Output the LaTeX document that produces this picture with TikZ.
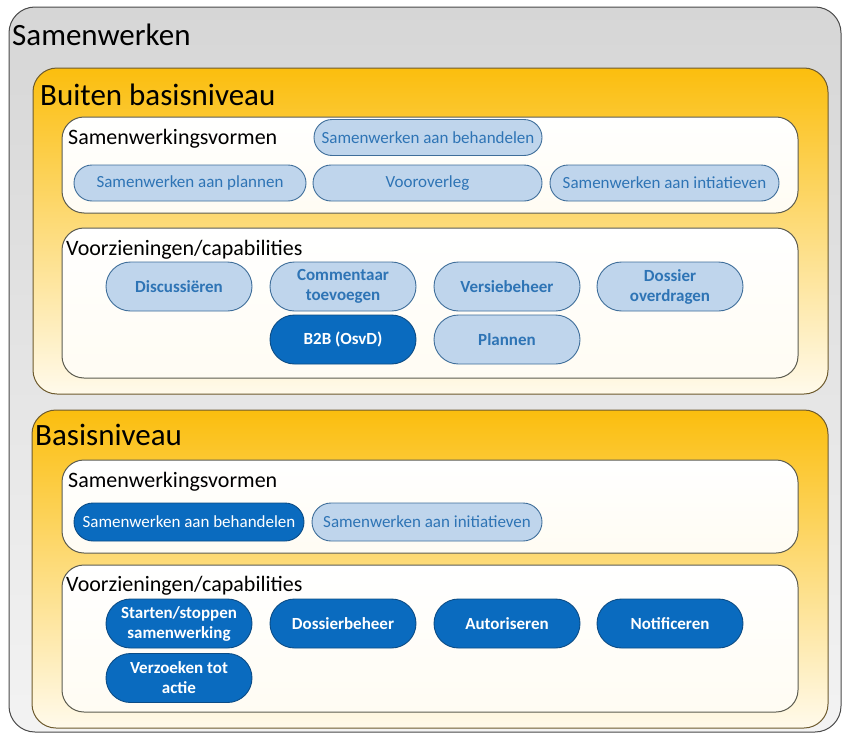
\documentclass[tikz,border=0pt]{standalone}
\usepackage{fontspec}
\setmainfont{Carlito}
\usetikzlibrary{shapes.misc}

\definecolor{framegray}{HTML}{4A4A4A}
\definecolor{bgtop}{HTML}{D6D6D6}
\definecolor{bgbot}{HTML}{F3F3F3}
\definecolor{leveltop}{HTML}{FBBE0E}
\definecolor{levelmid}{HTML}{FFD659}
\definecolor{levelbot}{HTML}{FFFAEB}
\definecolor{levelline}{HTML}{6E5B2E}
\definecolor{groupline}{HTML}{5C5C50}
\definecolor{pilllight}{HTML}{BFD5EC}
\definecolor{pilllightline}{HTML}{3F6E9A}
\definecolor{pilltext}{HTML}{2E74B5}
\definecolor{pilldark}{HTML}{0A6BBF}
\definecolor{pilldarkline}{HTML}{0B4C86}

\tikzset{
  outerbox/.style={draw=framegray, line width=1pt, rounded corners=26pt,
    top color=bgtop, bottom color=bgbot},
  levelbox/.style={draw=levelline, line width=1pt, rounded corners=24pt,
    top color=leveltop, middle color=levelmid, bottom color=levelbot},
  groupbox/.style={draw=groupline, line width=1pt, rounded corners=22pt,
    top color=white, bottom color=levelbot!60!white},
  title/.style={anchor=base west, inner sep=0pt, text=black,
    font=\fontsize{31}{36}\selectfont},
  grouplabel/.style={anchor=base west, inner sep=0pt, text=black,
    font=\fontsize{22}{26}\selectfont},
  pill/.style={rounded rectangle, line width=0.9pt, inner sep=1pt, align=center},
  lightpill/.style={pill, fill=pilllight, draw=pilllightline, text=pilltext},
  darkpill/.style={pill, fill=pilldark, draw=pilldarkline, text=white},
  formpill/.style={minimum height=36pt, font=\fontsize{17}{20}\selectfont},
  cappill/.style={minimum width=148pt, minimum height=49pt,
    font=\bfseries\fontsize{17}{20}\selectfont},
}

\begin{document}
\begin{tikzpicture}[x=1pt, y=-1pt]
\useasboundingbox (0,0) rectangle (849,736);

% outer frame
\path[outerbox] (9,7) rectangle (841,732);
\node[title] (tSam) at (12,45) {Samenwerken};

% upper level
\path[levelbox] (33,68) rectangle (828,394);
\node[title] (tBuiten) at (40,105) {Buiten basisniveau};

\path[groupbox] (62,117) rectangle (798,213);
\node[grouplabel] (lA1) at (68,144) {Samenwerkingsvormen};
\node[lightpill, formpill, minimum width=230pt] (a1) at (428,137.5) {Samenwerken aan behandelen};
\node[lightpill, formpill, minimum width=234pt] (a2) at (190,183) {Samenwerken aan plannen};
\node[lightpill, formpill, minimum width=231pt] (a3) at (427.5,183) {Vooroverleg};
\node[lightpill, formpill, minimum width=231pt] (a4) at (664.5,183) {Samenwerken aan intiatieven};

\path[groupbox] (62,228) rectangle (798,378);
\node[grouplabel] (lA2) at (66,255) {Voorzieningen/capabilities};
\node[lightpill, cappill] (c1) at (179,286.5) {Discussiëren};
\node[lightpill, cappill] (c2) at (343,286.5) {Commentaar\\toevoegen};
\node[lightpill, cappill] (c3) at (507,286.5) {Versiebeheer};
\node[lightpill, cappill] (c4) at (670,286.5) {Dossier\\overdragen};
\node[darkpill, cappill] (c5) at (343,339.5) {B2B (OsvD)};
\node[lightpill, cappill] (c6) at (507,339.5) {Plannen};

% base level
\path[levelbox] (32,410) rectangle (828,728);
\node[title] (tBasis) at (35,445) {Basisniveau};

\path[groupbox] (62,460) rectangle (798,553);
\node[grouplabel] (lB1) at (68,487) {Samenwerkingsvormen};
\node[darkpill, formpill, minimum width=232pt, minimum height=38pt] (b1) at (189,522) {Samenwerken aan behandelen};
\node[lightpill, formpill, minimum width=232pt, minimum height=38pt] (b2) at (427,522) {Samenwerken aan initiatieven};

\path[groupbox] (62,565) rectangle (798,712);
\node[grouplabel] (lB2) at (66,591) {Voorzieningen/capabilities};
\node[darkpill, cappill] (d1) at (179,623.5) {Starten/stoppen\\samenwerking};
\node[darkpill, cappill] (d2) at (343,623.5) {Dossierbeheer};
\node[darkpill, cappill] (d3) at (507,623.5) {Autoriseren};
\node[darkpill, cappill] (d4) at (670,623.5) {Notificeren};
\node[darkpill, cappill] (d5) at (179,678) {Verzoeken tot\\actie};
\end{tikzpicture}
\end{document}
